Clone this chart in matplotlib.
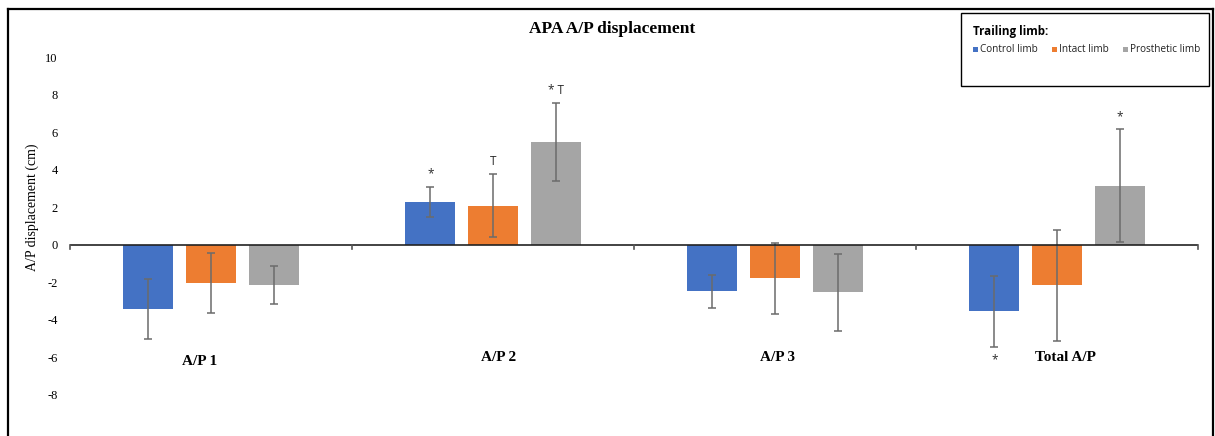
import matplotlib
matplotlib.use("Agg")
import matplotlib.pyplot as plt
from matplotlib.lines import Line2D
from matplotlib.patches import Rectangle
import numpy as np

# Data
categories = ["A/P 1", "A/P 2", "A/P 3", "Total A/P"]
series_names = ["Control limb", "Intact limb", "Prosthetic limb"]
control_mean = [-3.46, 2.29, -2.50, -3.56]
control_err = [1.60, 0.80, 0.90, 1.90]
intact_mean = [-2.07, 2.08, -1.81, -2.18]
intact_err = [1.60, 1.68, 1.90, 2.98]
prosthetic_mean = [-2.18, 5.48, -2.55, 3.14]
prosthetic_err = [1.01, 2.07, 2.07, 3.00]
y_ticks = [10, 8, 6, 4, 2, 0, -2, -4, -6, -8]

# Significance marks: (series index, category index, text, above/below)
sig_marks = [
    (0, 1, "*", "above"),
    (1, 1, "T", "above"),
    (2, 1, "* T", "above"),
    (2, 3, "*", "above"),
    (0, 3, "*", "below"),
]

colors = ["#4472C4", "#ED7D31", "#A5A5A5"]
means = [control_mean, intact_mean, prosthetic_mean]
errs = [control_err, intact_err, prosthetic_err]

W, H = 1215, 436
fig = plt.figure(figsize=(W / 100, H / 100), dpi=100)
fig.patch.set_facecolor("white")

serif = ["Liberation Serif", "DejaVu Serif"]
sans = ["Open Sans", "Liberation Sans", "DejaVu Sans"]

# axes: x from px 70 to 1198, y from 10 (px 57) to -10 (px 432)
x0, x1 = 70, 1198
ytop, ybot = 57, 432
ax = fig.add_axes([x0 / W, (H - ybot) / H, (x1 - x0) / W, (ybot - ytop) / H])
ax.set_xlim(-0.5, len(categories) - 0.5)
ax.set_ylim(-10, 10)
for s in ax.spines.values():
    s.set_visible(False)
ax.set_xticks([])
ax.set_yticks(y_ticks)
ax.set_yticklabels([str(t) for t in y_ticks], fontfamily=serif, fontsize=9)
ax.tick_params(axis="y", length=0, pad=9)
ax.patch.set_alpha(0)

x = np.arange(len(categories))
offset = 0.222
width = 0.177
for i in range(3):
    xs = x + (i - 1) * offset
    ax.bar(xs, means[i], width, color=colors[i], zorder=2,
           yerr=errs[i], capsize=3,
           error_kw=dict(ecolor="#6b6b6b", elinewidth=1.1, capthick=1.1, zorder=3))

# zero baseline with category boundary ticks
ax.axhline(0, color="#222222", lw=1.2, zorder=4)
for b in np.arange(-0.5, len(categories), 1.0):
    ax.plot([b, b], [0, -0.25], color="#555555", lw=1.2, zorder=4, clip_on=False)

# category labels
label_x = [-0.04, 1.02, 2.01, 3.03]
label_y = [-6.25, -6.0, -6.05, -6.05]
for c, lx, ly in zip(categories, label_x, label_y):
    ax.text(lx, ly, c, ha="center", va="center", fontfamily=serif,
            fontweight="bold", fontsize=11)

# significance marks
for si, ci, txt, where in sig_marks:
    xs = ci + (si - 1) * offset
    m, e = means[si][ci], errs[si][ci]
    dy = 9 if where == "above" else -9
    base = m + e if where == "above" else m - e
    ax.annotate(txt, (xs, base), xytext=(0, dy), textcoords="offset points",
                ha="center", va="center", fontsize=8.5, color="#2a2a2a",
                fontfamily=sans)

# title and axis label
fig.text(612 / W, 1 - 29 / H, "APA A/P displacement", ha="center", va="center",
         fontfamily=serif, fontweight="bold", fontsize=12.5)
fig.text(32 / W, 1 - 207 / H, "A/P displacement (cm)", ha="center", va="center",
         rotation=90, fontfamily=serif, fontsize=10)

# legend box
lx0, ly0, lx1, ly1 = 961, 13, 1209, 86
fig.add_artist(Rectangle((lx0 / W, 1 - ly1 / H), (lx1 - lx0) / W, (ly1 - ly0) / H,
                         transform=fig.transFigure, facecolor="white",
                         edgecolor="black", lw=1.0))
fig.text(973 / W, 1 - 31 / H, "Trailing limb:", ha="left", va="center",
         fontfamily=sans, fontweight="bold", fontsize=8.4)
sq_x = [973, 1052, 1123]
for sx, name, col in zip(sq_x, series_names, colors):
    fig.add_artist(Rectangle((sx / W, 1 - 52 / H), 5 / W, 5 / H,
                             transform=fig.transFigure, facecolor=col,
                             edgecolor="none"))
    fig.text((sx + 7) / W, 1 - 49.5 / H, name, ha="left", va="center",
             fontfamily=sans, fontsize=7.2, color="#222222")

# outer frame (left, top, right)
for xs_, ys_ in [([8, 8], [9, H + 5]), ([8, 1213], [9, 9]), ([1213, 1213], [9, H + 5])]:
    fig.add_artist(Line2D([v / W for v in xs_], [1 - v / H for v in ys_],
                          transform=fig.transFigure, color="black", lw=1.6))

fig.savefig("out.png", dpi=100, facecolor="white")
